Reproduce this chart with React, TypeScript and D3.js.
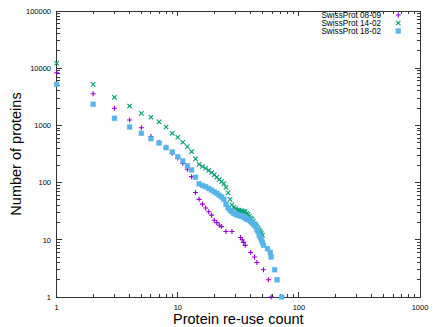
import React, { useRef, useEffect } from 'react'
import * as d3 from 'd3'

// SwissProt 08-09 (purple +)
const x0809 = [1, 2, 3, 4, 5, 6, 7, 8, 9, 10, 11, 12, 13, 14, 15, 16, 17, 18, 19, 20, 21, 22, 23, 25, 28, 33, 34, 35, 36, 40, 43, 45, 51, 56, 59]
const y0809 = [8330, 3580, 1990, 1240, 912, 640, 510, 415, 325, 268, 217, 171, 127, 67, 51, 42, 36, 31, 27, 22, 20, 18, 17, 14, 14, 11, 10, 9, 8, 6, 5, 4, 3, 2, 1]

// SwissProt 14-02 (green x)
const x1402 = [1, 2, 3, 4, 5, 6, 7, 8, 9, 10, 11, 12, 13, 14, 15, 16, 17, 18, 19, 20, 21, 22, 23, 24, 25, 26, 27, 28, 29, 30, 31, 32, 33, 34, 35, 36, 37, 38, 39, 40, 41, 42, 43, 44, 45, 46, 47, 48, 49, 50]
const y1402 = [12200, 5220, 3100, 2180, 1625, 1390, 1150, 938, 728, 620, 507, 424, 347, 259, 209, 191, 177, 163, 150, 136, 125, 113, 104, 96, 82, 66, 51, 41, 37, 35, 33, 33, 32, 32, 31, 31, 29, 28, 26, 24, 23, 21, 19, 18, 17, 16, 15, 14, 13, 12]

// SwissProt 18-02 (blue squares)
const x1802 = [1, 2, 3, 4, 5, 6, 7, 8, 9, 10, 11, 12, 13, 14, 15, 16, 17, 18, 19, 20, 21, 22, 23, 24, 25, 26, 27, 28, 29, 30, 31, 32, 33, 34, 35, 36, 37, 38, 39, 40, 41, 42, 43, 44, 45, 46, 47, 48, 49, 50, 51, 55, 58, 59, 63, 66, 72]
const y1802 = [5220, 2340, 1330, 937, 728, 585, 492, 408, 343, 284, 239, 197, 166, 124, 95, 89, 85, 79, 74, 69, 65, 60, 56, 51, 42, 36, 33, 31, 29, 28, 27, 27, 26, 26, 25, 24, 23, 23, 22, 21, 20, 19, 18, 17, 15, 14, 12, 11, 10, 9, 8, 7, 6, 5, 3, 2, 1]

const seriesNames = ['SwissProt 08-09', 'SwissProt 14-02', 'SwissProt 18-02']
const xTicks = [1, 10, 100, 1000]
const yTicks = [1, 10, 100, 1000, 10000, 100000]

const W = 436
const H = 327
const FONT = '"Liberation Sans", Arial, sans-serif'
const colors = ['#9400d3', '#009e73', '#56b4e9']

const App = () => {
  const svgRef = useRef<SVGSVGElement>(null)

  useEffect(() => {
    const svg = d3.select(svgRef.current)
    svg.selectAll('*').remove()

    const left = 56.7, right = 420, top = 11, bottom = 297
    const x = d3.scaleLog().domain([1, 1000]).range([left, right])
    const y = d3.scaleLog().domain([1, 100000]).range([bottom, top])

    const axisCol = '#333'
    const g = svg.append('g')

    // ticks (inward, mirrored on all four sides)
    const xMinor: number[] = []
    for (let d = 1; d < 1000; d *= 10) for (let k = 2; k <= 9; k++) xMinor.push(d * k)
    const yMinor: number[] = []
    for (let d = 1; d < 100000; d *= 10) for (let k = 2; k <= 9; k++) yMinor.push(d * k)

    const tickG = g.append('g').attr('stroke', axisCol).attr('stroke-width', 1).attr('shape-rendering', 'crispEdges')
    const addX = (v: number, len: number) => {
      tickG.append('line').attr('x1', x(v)).attr('x2', x(v)).attr('y1', bottom).attr('y2', bottom - len)
      tickG.append('line').attr('x1', x(v)).attr('x2', x(v)).attr('y1', top).attr('y2', top + len)
    }
    const addY = (v: number, len: number) => {
      tickG.append('line').attr('y1', y(v)).attr('y2', y(v)).attr('x1', left).attr('x2', left + len)
      tickG.append('line').attr('y1', y(v)).attr('y2', y(v)).attr('x1', right).attr('x2', right - len)
    }
    xTicks.forEach((v) => addX(v, 5))
    xMinor.forEach((v) => addX(v, 3))
    yTicks.forEach((v) => addY(v, 5))
    yMinor.forEach((v) => addY(v, 3))

    g.append('rect')
      .attr('x', left).attr('y', top)
      .attr('width', right - left).attr('height', bottom - top)
      .attr('fill', 'none').attr('stroke', axisCol).attr('stroke-width', 1)
      .attr('shape-rendering', 'crispEdges')

    // tick labels
    g.selectAll('.xl').data(xTicks).enter().append('text')
      .attr('x', (d) => x(d)).attr('y', 310)
      .attr('text-anchor', 'middle').attr('font-size', 7.5).attr('font-family', FONT)
      .text((d) => String(d))
    g.selectAll('.yl').data(yTicks).enter().append('text')
      .attr('x', 51).attr('y', (d) => y(d) + 2.7)
      .attr('text-anchor', 'end').attr('font-size', 7.5).attr('font-family', FONT)
      .text((d) => String(d))

    // axis titles
    g.append('text')
      .attr('x', (left + right) / 2).attr('y', 324)
      .attr('text-anchor', 'middle').attr('font-size', 14.5).attr('font-family', FONT)
      .text('Protein re-use count')
    g.append('text')
      .attr('transform', `translate(21,${(top + bottom) / 2}) rotate(-90)`)
      .attr('text-anchor', 'middle').attr('font-size', 14.5).attr('font-family', FONT)
      .text('Number of proteins')

    // markers
    const plus = (sel: any, cx: number, cy: number, c: string) => {
      sel.append('path').attr('d', `M${cx - 2.5},${cy}H${cx + 2.5}M${cx},${cy - 2.5}V${cy + 2.5}`)
        .attr('stroke', c).attr('stroke-width', 1.1).attr('fill', 'none')
    }
    const cross = (sel: any, cx: number, cy: number, c: string) => {
      sel.append('path').attr('d', `M${cx - 2.2},${cy - 2.2}L${cx + 2.2},${cy + 2.2}M${cx - 2.2},${cy + 2.2}L${cx + 2.2},${cy - 2.2}`)
        .attr('stroke', c).attr('stroke-width', 1.1).attr('fill', 'none')
    }
    const box = (sel: any, cx: number, cy: number, c: string) => {
      sel.append('rect').attr('x', cx - 2.4).attr('y', cy - 2.4).attr('width', 4.8).attr('height', 4.8)
        .attr('fill', c).attr('stroke', c).attr('stroke-opacity', 0.5).attr('stroke-width', 0.8)
    }
    const markers = [plus, cross, box]
    const xs = [x0809, x1402, x1802]
    const ys = [y0809, y1402, y1802]

    const pts = g.append('g')
    xs.forEach((arr, si) => {
      arr.forEach((xv, i) => markers[si](pts, x(xv), y(ys[si][i]), colors[si]))
    })

    // legend
    const leg = g.append('g')
    seriesNames.forEach((name, i) => {
      const cy = 15 + i * 8
      leg.append('text')
        .attr('x', 381).attr('y', cy + 2.9)
        .attr('text-anchor', 'end').attr('font-size', 8.2).attr('font-family', FONT)
        .text(name)
      markers[i](leg, 398.3, cy, colors[i])
    })
  }, [])

  return <svg ref={svgRef} width={W} height={H} style={{ position: 'absolute', left: 0, top: 0, background: '#fff' }} />
}

export default App
